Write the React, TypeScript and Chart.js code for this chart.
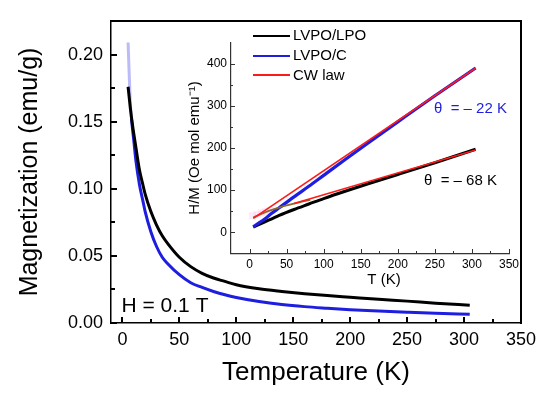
import React, { useEffect, useRef } from 'react';
import { Chart, registerables } from 'chart.js';

Chart.register(...registerables);

const FONT = "'Liberation Sans', Arial, Helvetica, sans-serif";
Chart.defaults.font.family = FONT;

// ---------- main panel: magnetization vs temperature ----------
const mainTemps = [5, 6, 7, 8, 10, 12, 15, 18, 20, 25, 30, 35, 40, 50, 60, 70, 80, 90, 100, 120, 140, 160, 180, 200, 225, 250, 275, 305];
const magLPO = [0.176, 0.168, 0.16, 0.153, 0.141, 0.13, 0.114, 0.103, 0.096, 0.083, 0.073, 0.065, 0.059, 0.049, 0.042, 0.037, 0.0335, 0.031, 0.0285, 0.0255, 0.0235, 0.0218, 0.0204, 0.0192, 0.0177, 0.0163, 0.0148, 0.0132];
const magC = [0.209, 0.185, 0.163, 0.152, 0.136, 0.12, 0.103, 0.091, 0.083, 0.068, 0.057, 0.049, 0.044, 0.036, 0.03, 0.0265, 0.0235, 0.021, 0.019, 0.016, 0.0138, 0.0122, 0.011, 0.0099, 0.0089, 0.008, 0.0072, 0.0065];
const mainXTicks = [0, 50, 100, 150, 200, 250, 300, 350];
const mainXMinor = [25, 75, 125, 175, 225, 275, 325];
const mainYTicks = [0, 0.05, 0.1, 0.15, 0.2];
const mainYMinor = [0.025, 0.075, 0.125, 0.175];

// ---------- inset: H/M vs T ----------
const insetTemps = [5, 10, 20, 30, 40, 60, 80, 100, 130, 160, 200, 250, 305];
const hmLPO = [12, 16, 24, 32, 40, 54, 67, 80, 98, 115, 137, 165, 197];
const hmC = [13, 19, 31, 45, 58, 84, 109, 135, 174, 212, 262, 324, 390];
const cwTempsC = [5, 305];
const cwC = [33, 390];
const cwTempsLPO = [60, 305];
const cwLPO = [68, 195];
const brownTemps = [5, 15, 25, 35, 46, 60, 72, 82];
const brownHM = [35, 43, 50, 56, 62, 68, 73, 77];
const pinkTemps = [4, 10, 16, 22, 28];
const pinkHM = [39, 42, 46, 49, 52];
const insetXTicks = [0, 50, 100, 150, 200, 250, 300, 350];
const insetXMinor = [25, 75, 125, 175, 225, 275, 325];
const insetYTicks = [0, 100, 200, 300, 400];
const insetYMinor = [50, 150, 250, 350];
const legendLabels = ['LVPO/LPO', 'LVPO/C', 'CW law'];

const BLACK = '#000000';
const BLUE = '#1e1ee0';
const RED = '#ff1a1a';
const BROWN = '#8a6a2a';

const pts = (xs: number[], ys: number[]) => xs.map((x, i) => ({ x, y: ys[i] }));

function addBox(host: HTMLElement, left: number, top: number, width: number, height: number, color: string) {
  const d = document.createElement('div');
  d.style.position = 'absolute';
  d.style.left = `${left}px`;
  d.style.top = `${top}px`;
  d.style.width = `${width}px`;
  d.style.height = `${height}px`;
  d.style.background = color;
  d.style.pointerEvents = 'none';
  host.appendChild(d);
}

// inward tick marks along the bottom (x) or left (y) axis, placed with the chart's scale
function addTicks(host: HTMLElement, scale: any, values: number[], isX: boolean, area: any, len: number, w: number, color: string) {
  values.forEach((v) => {
    const p = Math.round(scale.getPixelForValue(v));
    if (isX) addBox(host, p - Math.floor(w / 2), Math.round(area.bottom) - len, w, len, color);
    else addBox(host, Math.round(area.left), p - Math.floor(w / 2), len, w, color);
  });
}

export default function App() {
  const mainRef = useRef<HTMLCanvasElement>(null);
  const insetRef = useRef<HTMLCanvasElement>(null);
  const overRef = useRef<HTMLCanvasElement>(null);
  const decoRef = useRef<HTMLDivElement>(null);

  useEffect(() => {
    document.body.style.margin = '0';

    const main = new Chart(mainRef.current as HTMLCanvasElement, {
      type: 'line',
      data: {
        datasets: [
          {
            label: 'LVPO/LPO',
            data: pts(mainTemps, magLPO),
            borderColor: BLACK,
            borderWidth: 3,
            pointRadius: 0,
            cubicInterpolationMode: 'monotone',
          },
          {
            label: 'LVPO/C',
            data: pts(mainTemps, magC),
            borderColor: BLUE,
            borderWidth: 3,
            pointRadius: 0,
            cubicInterpolationMode: 'monotone',
            segment: {
              borderColor: (c: any) => (c.p0.parsed.y > 0.16 ? 'rgba(120,120,240,0.5)' : BLUE),
            },
          },
        ],
      },
      options: {
        animation: false,
        responsive: false,
        layout: { padding: { left: 0, top: 21, right: 29, bottom: 0 } },
        plugins: { legend: { display: false }, tooltip: { enabled: false } },
        scales: {
          x: {
            type: 'linear',
            min: -10,
            max: 350,
            afterBuildTicks: (s: any) => {
              s.ticks = mainXTicks.map((v) => ({ value: v }));
            },
            afterFit: (s: any) => {
              s.height = 75;
            },
            grid: { display: false, drawTicks: false },
            border: { display: true, color: '#000', width: 1.5 },
            ticks: {
              color: '#000',
              font: { size: 18 },
              padding: 6,
              maxRotation: 0,
              autoSkip: false,
              callback: (v: any) => String(v),
            },
            title: {
              display: true,
              text: 'Temperature (K)',
              color: '#000',
              font: { size: 26 },
              padding: { top: 0, bottom: 10 },
            },
          },
          y: {
            type: 'linear',
            min: 0,
            max: 0.225,
            afterBuildTicks: (s: any) => {
              s.ticks = mainYTicks.map((v) => ({ value: v }));
            },
            afterFit: (s: any) => {
              s.width = 111;
            },
            grid: { display: false, drawTicks: false },
            border: { display: true, color: '#000', width: 1.5 },
            ticks: {
              color: '#000',
              font: { size: 18 },
              padding: 8,
              autoSkip: false,
              callback: (v: any) => Number(v).toFixed(2),
            },
            title: {
              display: true,
              text: 'Magnetization (emu/g)',
              color: '#000',
              font: { size: 25 },
              padding: { top: 15, bottom: 0 },
            },
          },
        },
      },
    } as any);

    const inset = new Chart(insetRef.current as HTMLCanvasElement, {
      type: 'line',
      data: {
        datasets: [
          { label: 'CW law', data: pts(cwTempsC, cwC), borderColor: RED, borderWidth: 1.6, pointRadius: 0 },
          { label: 'CW law (LPO)', data: pts(cwTempsLPO, cwLPO), borderColor: RED, borderWidth: 1.6, pointRadius: 0 },
          {
            label: 'brown',
            data: pts(brownTemps, brownHM),
            borderColor: BROWN,
            borderWidth: 1.8,
            pointRadius: 0,
            cubicInterpolationMode: 'monotone',
          },
          {
            label: 'LVPO/C',
            data: pts(insetTemps, hmC),
            borderColor: BLUE,
            borderWidth: 3.2,
            pointRadius: 0,
            cubicInterpolationMode: 'monotone',
          },
          {
            label: 'LVPO/LPO',
            data: pts(insetTemps, hmLPO),
            borderColor: BLACK,
            borderWidth: 3,
            pointRadius: 0,
            cubicInterpolationMode: 'monotone',
          },
          {
            label: 'pink',
            data: pts(pinkTemps, pinkHM),
            showLine: false,
            pointStyle: 'rect',
            pointRadius: 5,
            borderWidth: 0,
            backgroundColor: 'rgba(255,170,235,0.25)',
          },
        ],
      },
      options: {
        animation: false,
        responsive: false,
        layout: { padding: { left: 180, top: 42.7, right: 41, bottom: 124.7 } },
        plugins: { legend: { display: false }, tooltip: { enabled: false } },
        scales: {
          x: {
            type: 'linear',
            min: -25,
            max: 350,
            afterBuildTicks: (s: any) => {
              s.ticks = insetXTicks.map((v) => ({ value: v }));
            },
            afterFit: (s: any) => {
              s.height = 20;
            },
            grid: { display: false, drawTicks: false },
            border: { display: true, color: '#333', width: 1.2 },
            ticks: {
              color: '#000',
              font: { size: 12 },
              padding: 4,
              maxRotation: 0,
              autoSkip: false,
              callback: (v: any) => String(v),
            },
          },
          y: {
            type: 'linear',
            min: -50,
            max: 450,
            afterBuildTicks: (s: any) => {
              s.ticks = insetYTicks.map((v) => ({ value: v }));
            },
            afterFit: (s: any) => {
              s.width = 51;
            },
            grid: { display: false, drawTicks: false },
            border: { display: true, color: '#333', width: 1.2 },
            ticks: {
              color: '#000',
              font: { size: 12 },
              padding: 4,
              autoSkip: false,
              callback: (v: any) => String(v),
            },
            title: {
              display: true,
              text: 'H/M (Oe mol emu⁻¹)',
              color: '#000',
              font: { size: 15 },
              padding: { top: 6, bottom: 0 },
            },
          },
        },
      },
    } as any);

    // texts and legend on an overlay canvas
    const oc = overRef.current as HTMLCanvasElement;
    const ctx = oc.getContext('2d') as CanvasRenderingContext2D;
    ctx.clearRect(0, 0, oc.width, oc.height);
    const a: any = main.chartArea;
    const b: any = inset.chartArea;
    const ms: any = main.scales;
    const is: any = inset.scales;

    ctx.fillStyle = '#000';
    ctx.font = `21px ${FONT}`;
    ctx.textBaseline = 'alphabetic';
    ctx.textAlign = 'left';
    ctx.fillText('H = 0.1 T', a.left + 10.5, a.bottom - 11);

    const colors = [BLACK, BLUE, RED];
    const rows = [b.top - 7, b.top + 12.8, b.top + 32.3];
    ctx.font = `15px ${FONT}`;
    ctx.textBaseline = 'middle';
    legendLabels.forEach((lab, i) => {
      ctx.fillStyle = '#000';
      ctx.fillText(lab, b.left + 62, rows[i] + 0.5);
    });

    ctx.textBaseline = 'alphabetic';
    ctx.textAlign = 'center';
    ctx.fillStyle = '#000';
    ctx.fillText('T (K)', b.left + 153, b.bottom + 31);

    ctx.textAlign = 'left';
    ctx.fillStyle = BLUE;
    ctx.fillText('θ  = – 22 K', 434, 113);
    ctx.fillStyle = '#000';
    ctx.fillText('θ  = – 68 K', 424, 185);

    legendLabels.forEach((_lab, i) => {
      ctx.fillStyle = colors[i];
      ctx.fillRect(Math.round(b.left + 22), Math.round(rows[i]) - 1, 37, 2);
    });

    // frame edges and inward ticks as small DOM boxes, placed from the chart scales
    const host = decoRef.current as HTMLDivElement;
    host.innerHTML = '';
    const L = Math.round(a.left), T = Math.round(a.top), R = Math.round(a.right), B = Math.round(a.bottom);
    addBox(host, L - 1, T - 1, R - L + 2, 2, '#000');
    addBox(host, R - 1, T - 1, 2, B - T + 2, '#000');
    addTicks(host, ms.x, mainXTicks, true, a, 6, 2, '#000');
    addTicks(host, ms.x, mainXMinor, true, a, 4, 2, '#000');
    addTicks(host, ms.y, mainYTicks, false, a, 6, 2, '#000');
    addTicks(host, ms.y, mainYMinor, false, a, 4, 2, '#000');
    addTicks(host, is.x, insetXTicks, true, b, 4, 1, '#333');
    addTicks(host, is.x, insetXMinor, true, b, 2, 1, '#333');
    addTicks(host, is.y, insetYTicks, false, b, 4, 1, '#333');
    addTicks(host, is.y, insetYMinor, false, b, 2, 1, '#333');

    return () => {
      main.destroy();
      inset.destroy();
      ctx.clearRect(0, 0, oc.width, oc.height);
      host.innerHTML = '';
    };
  }, []);

  return (
    <div style={{ position: 'relative', width: 550, height: 398, background: '#fff', overflow: 'hidden' }}>
      <canvas ref={mainRef} width={550} height={398} style={{ position: 'absolute', left: 0, top: 0 }} />
      <canvas ref={insetRef} width={550} height={398} style={{ position: 'absolute', left: 0, top: 0 }} />
      <canvas ref={overRef} width={550} height={398} style={{ position: 'absolute', left: 0, top: 0 }} />
      <div ref={decoRef} style={{ position: 'absolute', left: 0, top: 0, width: 550, height: 398, pointerEvents: 'none' }} />
    </div>
  );
}
